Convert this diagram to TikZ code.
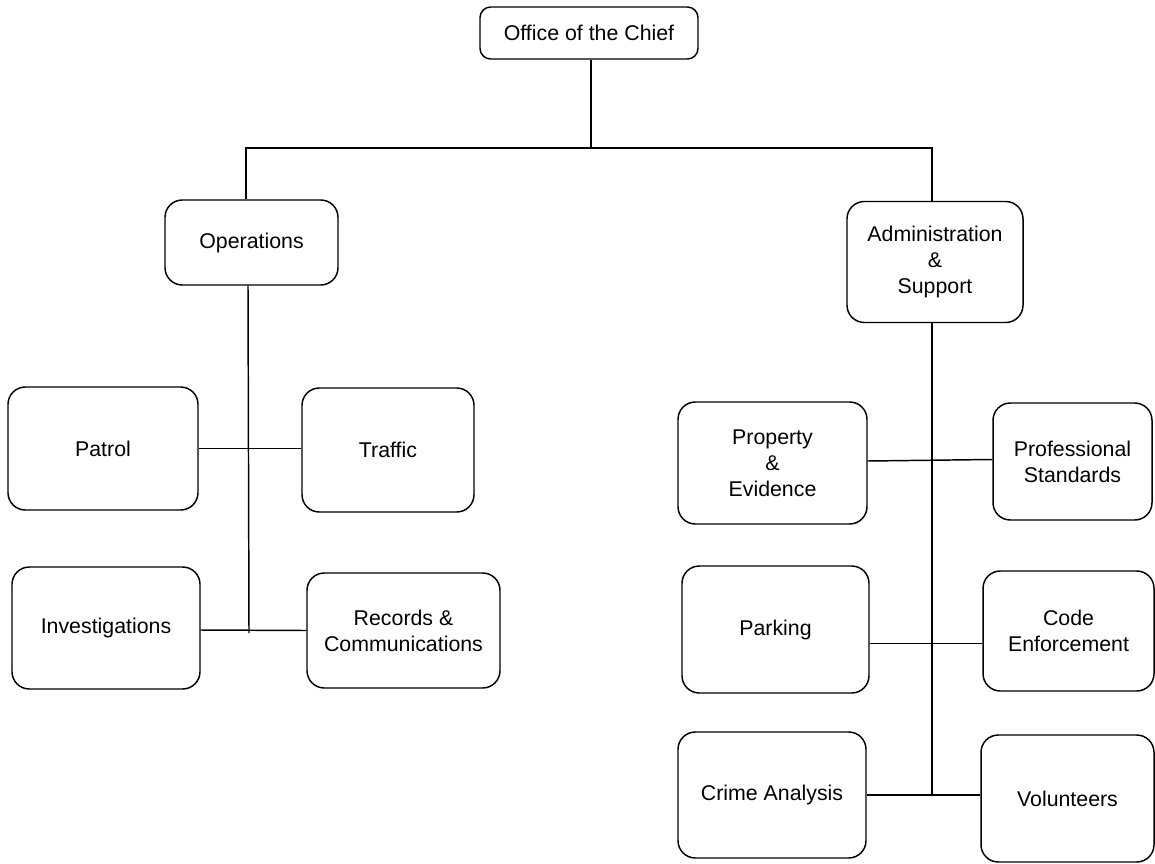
\documentclass[tikz,border=0pt]{standalone}
\usepackage{fontspec}
\setmainfont{Liberation Sans}
\usepackage{tikz}
\usetikzlibrary{positioning,calc}
\tikzset{
  unit/.style  ={draw=black,line width=1.1pt,rounded corners=13pt,align=center,
                 inner sep=2pt,font=\fontsize{16}{19.5}\selectfont},
  hq/.style    ={unit,rounded corners=8pt},
  sz/.style 2 args={minimum width=#1*0.75pt,minimum height=#2*0.75pt},
  ln/.style    ={draw=black,line width=1.1pt},
}

\begin{document}
\begin{tikzpicture}[x=0.75pt, y=-0.75pt]
\useasboundingbox (0,0) rectangle (1155,863);

% ---- top of the chart ---------------------------------------------------
\node[hq,sz={218}{52}]   (chief) at (589,33)    {Office of the Chief};
\node[unit,sz={173}{85}] (ops)   at (251.5,242.5) {Operations};
\node[unit,sz={176}{121}] (adm)  at (935,262)   {Administration\\\&\\Support};

\coordinate (bus)  at (591,148);
\coordinate (busL) at (246,148);
\coordinate (busR) at (932,148);
\draw[ln] (chief.south -| bus) -- (bus);
\draw[ln] (busL |- ops.north) -- (busL) -- (busR) -- (busR |- adm.north);

% ---- operations side ----------------------------------------------------
\node[unit,sz={190}{123}] (patrol)  at (103,448.5)  {Patrol};
\node[unit,sz={172}{124}] (traffic) at (388,450)    {Traffic};
\node[unit,sz={188}{122}] (inv)     at (106,628)    {Investigations};
\node[unit,sz={193}{115}] (rec)     at (403.5,630.5) {Records \&\\Communications};

\coordinate (opsEnd) at (249,633);
\draw[ln] (ops.south -| 248,0) -- (opsEnd);
\draw[ln] (patrol.east) -- (traffic.west |- patrol.east);
\draw[ln] ([yshift=-1.5pt]inv.east) -- (rec.west);

% ---- administration side ------------------------------------------------
\node[unit,sz={189}{122}] (prop)  at (772.5,463)   {Property\\\&\\Evidence};
\node[unit,sz={159}{117}] (prof)  at (1072.5,461.5) {Professional\\Standards};
\node[unit,sz={187}{127}] (park)  at (775.5,629.5) {Parking};
\node[unit,sz={171}{120}] (code)  at (1068.5,631)  {Code\\Enforcement};
\node[unit,sz={188}{126}] (crime) at (772,795)     {Crime Analysis};
\node[unit,sz={173}{127}] (vol)   at (1067.5,798.5) {Volunteers};

\coordinate (admEnd) at (932,795);
\draw[ln] (adm.south -| admEnd) -- (admEnd);
\draw[ln] ([yshift=1.5pt]prop.east) -- ([yshift=1.5pt]prof.west);
\draw[ln] ([yshift=-10.5pt]park.east) -- ([yshift=-10.5pt]park.east -| code.west);
\draw[ln] (crime.east) -- (crime.east -| vol.west);
\end{tikzpicture}
\end{document}
